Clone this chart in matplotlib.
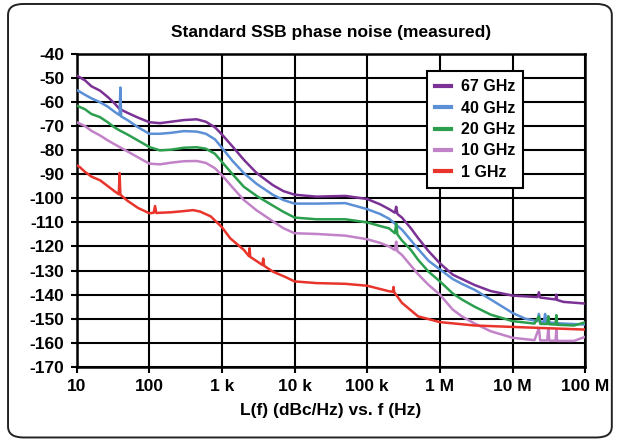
import matplotlib
matplotlib.use("Agg")
import matplotlib.pyplot as plt
from matplotlib.patches import FancyBboxPatch

plt.rcParams['font.family'] = ['Liberation Sans', 'DejaVu Sans']
plt.rcParams['font.weight'] = 'bold'
plt.rcParams['axes.unicode_minus'] = False

# ==========================================
# Data (f in Hz, L(f) in dBc/Hz)
# ==========================================
series_names = ["67 GHz", "40 GHz", "20 GHz", "10 GHz", "1 GHz"]
series_colors = ["#7b3294", "#5b8fd6", "#2c9f4f", "#c282c8", "#e8342b"]

f_67 = [10, 13, 16, 21, 27, 33, 39, 50, 70, 100, 140, 200, 300, 450, 600, 800,
        1e3, 1.4e3, 2e3, 3e3, 5e3, 7e3, 1e4, 2e4, 5e4, 1e5, 1.5e5, 2e5, 2.4e5,
        2.5e5, 2.6e5, 3e5, 4e5, 5e5, 7e5, 1e6, 1.5e6, 3e6, 5e6, 1e7, 2.2e7,
        2.3e7, 2.4e7, 3.9e7, 4e7, 4.1e7, 5e7, 1e8]
L_67 = [-49, -51, -53.5, -55.3, -58, -60.5, -62.9, -64.5, -66.5, -68.4, -68.8,
        -68.2, -67.5, -67.2, -68.2, -70.5, -73.5, -78.5, -84, -89.5, -94.5, -97,
        -98.5, -99.3, -99, -100.3, -102.5, -104.5, -106, -103.5, -106.5, -108,
        -112.5, -116.5, -122, -127, -131.7, -136, -138.5, -140.4, -141, -139,
        -141.2, -142, -140, -142.2, -143, -143.7]

f_40 = [10, 13, 16, 21, 27, 33, 39, 40, 41, 50, 70, 100, 140, 200, 300, 450,
        600, 800, 1e3, 1.4e3, 2e3, 3e3, 5e3, 7e3, 1e4, 2e4, 5e4, 1e5, 1.5e5,
        2e5, 2.5e5, 3e5, 4e5, 5e5, 7e5, 1e6, 1.5e6, 2e6, 3e6, 5e6, 1e7, 1.5e7,
        2.2e7, 2.3e7, 2.4e7, 2.7e7, 2.8e7, 2.9e7, 3e7, 3.1e7, 3.2e7, 5e7, 1e8]
L_40 = [-55, -57, -58.5, -60.1, -62, -64, -65.5, -54, -66, -67.5, -70.5, -73.2,
        -73.2, -72.8, -72.1, -72.3, -73.2, -75.5, -79, -84.5, -89.5, -94, -98.5,
        -100.7, -102.2, -102.2, -102, -104.5, -106.5, -108.5, -111, -113,
        -117.5, -121, -126, -129.5, -133.5, -135.5, -138, -142, -147.6, -150,
        -151, -148, -151.2, -151.3, -148, -151.4, -151.5, -149, -151.6, -152,
        -152.4]

f_20 = [10, 13, 16, 21, 27, 33, 39, 50, 70, 100, 140, 200, 300, 450, 600, 800,
        1e3, 1.4e3, 2e3, 3e3, 5e3, 7e3, 1e4, 2e4, 5e4, 1e5, 1.5e5, 2e5, 2.4e5,
        2.5e5, 2.6e5, 3e5, 4e5, 5e5, 7e5, 1e6, 1.5e6, 2e6, 3e6, 5e6, 1e7, 2e7,
        2.3e7, 2.4e7, 3e7, 3.1e7, 3.2e7, 3.9e7, 4e7, 4.1e7, 7e7, 1e8]
L_20 = [-61.5, -63, -65, -66.3, -68.5, -70.5, -71.8, -73.5, -76, -78.7, -80.1,
        -79.8, -79, -78.8, -79.4, -81.5, -84.9, -90, -95.2, -99, -103, -105.6,
        -108, -108.7, -108.7, -110, -111.5, -112.5, -114.5, -110.5, -115,
        -117.5, -121.5, -125.5, -130.5, -134.5, -139.5, -142, -145, -148.3,
        -151, -152, -149, -152.1, -152.2, -149, -152.3, -152.4, -148.5, -152.5,
        -152.8, -151.5]

f_10 = [10, 13, 16, 21, 27, 33, 39, 50, 70, 100, 140, 200, 300, 450, 600, 800,
        1e3, 1.4e3, 2e3, 3e3, 5e3, 7e3, 1e4, 2e4, 5e4, 1e5, 1.5e5, 2e5, 2.4e5,
        2.5e5, 2.6e5, 3e5, 4e5, 5e5, 7e5, 1e6, 1.5e6, 2e6, 3e6, 5e6, 1e7, 2e7,
        2.3e7, 2.4e7, 3e7, 3.1e7, 3.2e7, 3.9e7, 4e7, 4.1e7, 7e7, 1e8]
L_10 = [-68.4, -70, -72, -73.9, -76, -77.5, -78.7, -80.5, -83, -85.6, -85.9,
        -85.2, -84.6, -84.5, -85.3, -87.5, -90.4, -95.5, -100.7, -105, -109.5,
        -112.4, -114.5, -114.8, -115.5, -117, -118.5, -120, -121.5, -118,
        -122, -123.5, -128, -131.5, -136, -140, -146.2, -149, -152, -155.2,
        -157.9, -158.9, -154, -159, -159, -154, -159.1, -159.1, -154.5, -159.2,
        -159.2, -157.5]

f_1 = [10, 11, 13, 16, 21, 27, 33, 38, 39, 40, 50, 70, 100, 115, 120, 125, 140,
       200, 300, 400, 500, 700, 1e3, 1.3e3, 2e3, 2.35e3, 2.4e3, 2.45e3, 3.3e3,
       3.6e3, 3.7e3, 3.8e3, 5e3, 7.5e3, 1e4, 2e4, 5e4, 1e5, 2e5, 2.25e5, 2.3e5,
       2.35e5, 3e5, 5e5, 1e6, 3e6, 1e7, 1e8]
L_1 = [-86.3, -87, -89, -91, -92.5, -95, -97, -98.3, -89.5, -98.5, -101, -104,
       -106.2, -106, -103.2, -106.1, -106, -105.8, -105.3, -104.9, -105.5,
       -107.5, -112, -116.6, -121.4, -124, -120.7, -124.3, -126.9, -127.7,
       -125, -128, -130.4, -132.7, -134.5, -135.2, -135.5, -136.3, -138.6,
       -138.8, -136.8, -139, -143.4, -149, -151.4, -152.8, -153.4, -154.5]

series_f = [f_67, f_40, f_20, f_10, f_1]
series_L = [L_67, L_40, L_20, L_10, L_1]

x_ticks = [10, 100, 1e3, 1e4, 1e5, 1e6, 1e7, 1e8]
x_tick_labels = ["10", "100", "1 k", "10 k", "100 k", "1 M", "10 M", "100 M"]
y_ticks = list(range(-170, -39, 10))

# ==========================================
# Figure
# ==========================================
fig = plt.figure(figsize=(6.18, 4.41), dpi=100)
ax = fig.add_axes([0.124, 0.168, 0.823, 0.710])

# rounded frame around the whole chart
frame = FancyBboxPatch((0.013, 0.008), 0.977, 0.983,
                       boxstyle="round,pad=0,rounding_size=0.025",
                       transform=fig.transFigure, fill=False,
                       edgecolor="#222222", linewidth=1.4, zorder=0)
fig.patches.append(frame)

for name, color, f, L in zip(series_names, series_colors, series_f, series_L):
    ax.plot(f, L, color=color, lw=1.8, label=name, zorder=3)

ax.set_xscale("log")
ax.set_xlim(10, 1e8)
ax.set_ylim(-170, -40)
ax.set_xticks(x_ticks)
ax.set_xticklabels(x_tick_labels)
ax.set_yticks(y_ticks)
ax.minorticks_off()
ax.grid(True, color="black", lw=1.5, zorder=1)
ax.tick_params(axis="both", which="major", direction="out", length=4.5,
               width=1.5, labelsize=12.5, pad=4.5)
for sp in ax.spines.values():
    sp.set_linewidth(1.8)

ax.set_title("Standard SSB phase noise (measured)", fontsize=12.5,
             fontweight="bold", pad=12)
ax.set_xlabel("L(f) (dBc/Hz) vs. f (Hz)", fontsize=12.5, fontweight="bold",
              labelpad=6)

leg = ax.legend(loc="upper left", bbox_to_anchor=(0.689, 0.944),
                borderaxespad=0, fancybox=False, edgecolor="black",
                framealpha=1, fontsize=11.5, handlelength=1.0,
                handletextpad=0.6, borderpad=0.5, labelspacing=0.4)
leg.get_frame().set_linewidth(1.5)
for line in leg.get_lines():
    line.set_linewidth(3)

fig.savefig("out.png", dpi=100)
